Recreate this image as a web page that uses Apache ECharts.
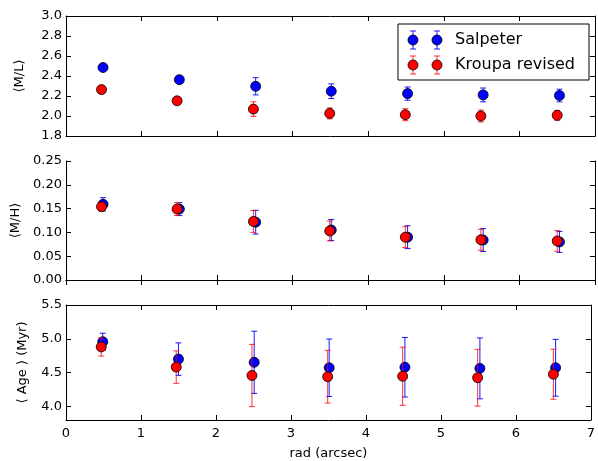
<!DOCTYPE html>
<html><head><meta charset="utf-8">
<script src="https://cdn.jsdelivr.net/npm/echarts@6/dist/echarts.min.js"></script>
<style>html,body{margin:0;padding:0;background:#fff}#c{width:598px;height:461px}</style>
</head><body><div id="c"></div>
<script>
const radSal = [0.49, 1.50, 2.51, 3.51, 4.52, 5.52, 6.53];
const radKro = [0.47, 1.47, 2.48, 3.49, 4.49, 5.49, 6.50];
const mlSal = [2.485, 2.363, 2.297, 2.248, 2.224, 2.211, 2.205];
const mlSalErr = [0.008, 0.026, 0.086, 0.073, 0.066, 0.069, 0.063];
const mlKro = [2.264, 2.152, 2.069, 2.026, 2.013, 2.000, 2.007];
const mlKroErr = [0.005, 0.010, 0.073, 0.055, 0.060, 0.060, 0.050];
const mhSal = [0.159, 0.149, 0.1215, 0.105, 0.090, 0.084, 0.080];
const mhSalErr = [0.014, 0.0136, 0.025, 0.022, 0.024, 0.024, 0.022];
const mhKro = [0.154, 0.149, 0.123, 0.103, 0.090, 0.0845, 0.082];
const mhKroErr = [0.009, 0.0136, 0.023, 0.021, 0.022, 0.022, 0.0216];
const ageSal = [4.957, 4.70, 4.653, 4.572, 4.58, 4.563, 4.572];
const ageSalErr = [0.126, 0.24, 0.46, 0.425, 0.44, 0.45, 0.42];
const ageKro = [4.88, 4.582, 4.458, 4.44, 4.447, 4.425, 4.477];
const ageKroErr = [0.135, 0.24, 0.46, 0.39, 0.43, 0.42, 0.37];
const xTicks = [0, 1, 2, 3, 4, 5, 6, 7];
const mlTicks = [1.8, 2.0, 2.2, 2.4, 2.6, 2.8, 3.0];
const mhTicks = [0.00, 0.05, 0.10, 0.15, 0.20, 0.25];
const ageTicks = [4.0, 4.5, 5.0, 5.5];
const seriesNames = ['Salpeter', 'Kroupa revised'];
const yNames = ['\u27E8M/L\u27E9', '\u27E8M/H\u27E9', '\u27E8 Age \u27E9 (Myr)'];
const xName = 'rad (arcsec)';

const FONT = 'DejaVu Sans';
const BLUE = '#0000ff', RED = '#ff0000';
const grids = [
  {left: 66, right: 3, top: 16, height: 120},
  {left: 66, right: 3, top: 161, height: 119},
  {left: 66, right: 3, top: 305, height: 120}
];
const yCfg = [
  {min: 1.8, max: 3.0, ticks: mlTicks, dec: 1},
  {min: 0, max: 0.25, ticks: mhTicks, dec: 2},
  {min: 3.8, max: 5.5, ticks: ageTicks, dec: 1}
];
const tick = {show: true, inside: true, length: 5, lineStyle: {color: '#000', width: 1}};
const xAxis = [], yAxis = [];
grids.forEach((g, i) => {
  const last = i === 2;
  xAxis.push({type: 'value', gridIndex: i, min: 0, max: 7, interval: 1, position: 'bottom',
    axisLine: {show: true, lineStyle: {color: '#000', width: 1}}, axisTick: tick, splitLine: {show: false},
    axisLabel: {show: last, color: '#000', fontFamily: FONT, fontSize: 13, margin: 7},
    name: last ? xName : '', nameLocation: 'middle', nameGap: 27,
    nameTextStyle: {color: '#000', fontFamily: FONT, fontSize: 13}});
  xAxis.push({type: 'value', gridIndex: i, min: 0, max: 7, interval: 1, position: 'top',
    axisLine: {show: true, lineStyle: {color: '#000', width: 1}}, axisTick: tick, splitLine: {show: false},
    axisLabel: {show: false}});
  const c = yCfg[i];
  const yl = {type: 'value', gridIndex: i, min: c.min, max: c.max,
    axisLine: {show: true, onZero: false, lineStyle: {color: '#000', width: 1}},
    axisTick: Object.assign({}, tick, {customValues: c.ticks}), splitLine: {show: false},
    axisLabel: {customValues: c.ticks, color: '#000', fontFamily: FONT, fontSize: 13, margin: 4,
      formatter: v => Number(v).toFixed(c.dec)},
    name: yNames[i], nameLocation: 'middle', nameGap: i === 2 ? 37 : 40, nameRotate: 90,
    nameTextStyle: {color: '#000', fontFamily: FONT, fontSize: 13}};
  yAxis.push(yl);
  yAxis.push({type: 'value', gridIndex: i, min: c.min, max: c.max, position: 'right',
    axisLine: {show: true, onZero: false, lineStyle: {color: '#000', width: 1}},
    axisTick: Object.assign({}, tick, {customValues: c.ticks}), splitLine: {show: false},
    axisLabel: {show: false}});
});

function errSeries(i, xs, vals, errs, color, opacity, z) {
  return {type: 'custom', xAxisIndex: 2 * i, yAxisIndex: 2 * i, z: z, silent: true,
    data: xs.map((x, k) => [x, vals[k] - errs[k], vals[k] + errs[k]]),
    renderItem: (params, api) => {
      const p1 = api.coord([api.value(0), api.value(1)]);
      const p2 = api.coord([api.value(0), api.value(2)]);
      const w = 3;
      const st = {stroke: color, lineWidth: 1, opacity: opacity};
      return {type: 'group', children: [
        {type: 'line', shape: {x1: p1[0], y1: p1[1], x2: p2[0], y2: p2[1]}, style: st},
        {type: 'line', shape: {x1: p1[0] - w, y1: p1[1], x2: p1[0] + w, y2: p1[1]}, style: st},
        {type: 'line', shape: {x1: p2[0] - w, y1: p2[1], x2: p2[0] + w, y2: p2[1]}, style: st}
      ]};
    }};
}
function ptSeries(i, xs, vals, color, name, z) {
  return {type: 'scatter', name: name, xAxisIndex: 2 * i, yAxisIndex: 2 * i, z: z,
    symbol: 'circle', symbolSize: 10,
    itemStyle: {color: color, borderColor: '#000', borderWidth: 0.8, opacity: 1},
    data: xs.map((x, k) => [x, vals[k]])};
}
const panels = [[mlSal, mlSalErr, mlKro, mlKroErr], [mhSal, mhSalErr, mhKro, mhKroErr], [ageSal, ageSalErr, ageKro, ageKroErr]];
const series = [];
panels.forEach((p, i) => {
  series.push(errSeries(i, radSal, p[0], p[1], BLUE, 0.9, 2));
  series.push(ptSeries(i, radSal, p[0], BLUE, seriesNames[0], 3));
  series.push(errSeries(i, radKro, p[2], p[3], RED, 0.8, 4));
  series.push(ptSeries(i, radKro, p[2], RED, seriesNames[1], 5));
});

function legendEntry(y, color, op, label) {
  const ch = [];
  [413, 437].forEach(x => {
    const st = {stroke: color, lineWidth: 1, opacity: op};
    ch.push({type: 'line', shape: {x1: x, y1: y - 9, x2: x, y2: y + 9}, style: st});
    ch.push({type: 'line', shape: {x1: x - 3, y1: y - 9, x2: x + 3, y2: y - 9}, style: st});
    ch.push({type: 'line', shape: {x1: x - 3, y1: y + 9, x2: x + 3, y2: y + 9}, style: st});
    ch.push({type: 'circle', shape: {cx: x, cy: y, r: 5}, style: {fill: color, stroke: '#000', lineWidth: 0.8}});
  });
  ch.push({type: 'text', style: {x: 455, y: y, text: label, fill: '#000', font: '16px "DejaVu Sans"', textVerticalAlign: 'middle', verticalAlign: 'middle'}});
  return ch;
}
const graphic = [{type: 'group', z: 100, children: [
  {type: 'rect', shape: {x: 398, y: 24, width: 191, height: 56}, style: {fill: '#fff', stroke: '#000', lineWidth: 1}},
  ...legendEntry(40, BLUE, 0.9, seriesNames[0]),
  ...legendEntry(65, RED, 0.8, seriesNames[1])
]}];

const chart = echarts.init(document.getElementById('c'), null, {renderer: 'canvas'});
chart.setOption({animation: false, backgroundColor: '#fff', grid: grids, xAxis: xAxis, yAxis: yAxis, series: series, graphic: graphic});
</script></body></html>
